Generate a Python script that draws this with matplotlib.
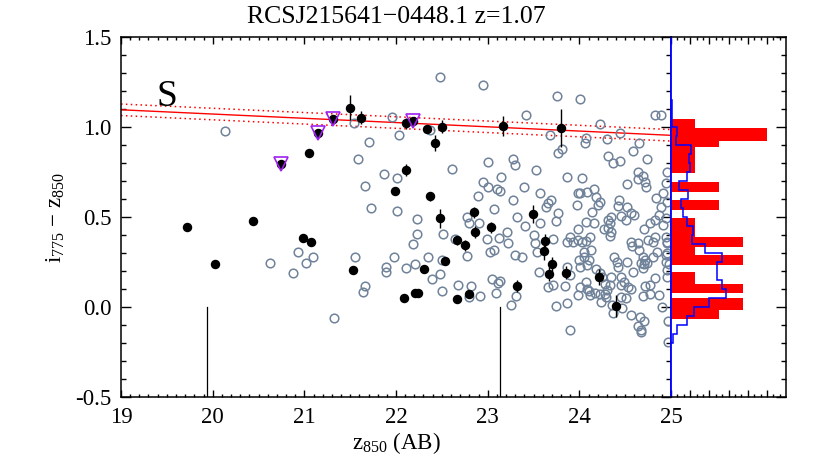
import numpy as np
import matplotlib
matplotlib.use("Agg")
import matplotlib.pyplot as plt
import matplotlib.ticker as ticker

plt.rcParams["font.family"] = ["Liberation Serif", "DejaVu Serif"]
plt.rcParams["mathtext.fontset"] = "custom"
plt.rcParams["mathtext.rm"] = "Liberation Serif"
plt.rcParams["mathtext.it"] = "Liberation Serif:italic"

# ── Gögn ────────────────────────────────────────────────────────────────────
# rauðraðar-vetrarbrautir (svartar, með óvissu)
black_x = [19.72, 20.03, 20.44, 20.74, 20.98, 21.05, 21.07, 21.15, 21.31, 21.50,
           21.53, 21.62, 21.99, 22.09, 22.11, 22.11, 22.19, 22.21, 22.24, 22.30,
           22.34, 22.37, 22.42, 22.48, 22.50, 22.53, 22.66, 22.66, 22.75, 22.80,
           22.85, 22.86, 23.04, 23.17, 23.32, 23.49, 23.61, 23.62, 23.67, 23.70,
           23.80, 23.85, 24.21, 24.40]
black_y = [0.446, 0.242, 0.478, 0.795, 0.385, 0.858, 0.363, 0.966, 1.044, 1.108,
           0.207, 1.053, 0.646, 0.051, 1.021, 0.760, 1.036, 0.079, 0.079, 0.211,
           0.991, 0.617, 0.914, 0.493, 1.003, 0.257, 0.372, 0.047, 0.344, 0.072,
           0.526, 0.418, 0.443, 1.005, 0.118, 0.517, 0.312, 0.366, 0.183, 0.237,
           0.994, 0.192, 0.168, 0.005]
black_err = [0.01, 0.01, 0.01, 0.025, 0.01, 0.015, 0.015, 0.025, 0.025, 0.07,
             0.015, 0.035, 0.015, 0.015, 0.03, 0.033, 0.02, 0.015, 0.015, 0.015,
             0.02, 0.025, 0.045, 0.053, 0.035, 0.015, 0.025, 0.015, 0.03, 0.02,
             0.03, 0.035, 0.03, 0.055, 0.035, 0.05, 0.05, 0.04, 0.04, 0.04,
             0.105, 0.035, 0.045, 0.06]

# litrófsgreindar (fjólubláir þríhyrningar)
tri_x = [20.74, 21.15, 21.31, 22.19]
tri_y = [0.795, 0.966, 1.044, 1.036]

# aðrar vetrarbrautir (gráir hringir)
gray_x = [22.48, 22.95, 23.76, 24.01, 23.42, 24.22, 24.83, 24.89, 21.96, 22.03,
          22.37, 23.68, 23.77, 23.81, 24.07, 24.06, 24.30, 24.44, 24.65, 24.58,
          24.74, 24.31, 24.37, 24.44, 23.28, 23.30, 23.00, 22.61, 21.87, 22.01,
          23.53, 23.87, 24.03, 23.15, 22.95, 23.00, 23.10, 23.13, 23.40, 23.57,
          22.89, 23.28, 23.69, 23.98, 24.01, 24.08, 24.16, 24.18, 24.52, 24.64,
          24.69, 24.72, 24.73, 24.64, 24.84, 24.91, 24.96, 24.95, 24.43,
          20.13, 21.58, 21.71, 21.66, 21.73, 21.54,
          20.63, 20.88, 20.93, 21.02, 21.09, 21.32, 21.55, 21.66, 21.64, 22.01,
          21.89, 21.89, 21.98,
          22.23, 22.23, 22.18, 22.11, 22.21, 22.35, 22.39, 22.48, 22.50, 22.50,
          22.51, 22.64, 22.68, 22.77, 22.80, 22.91, 22.77, 22.82, 22.80, 22.92,
          22.99, 23.03, 23.07, 23.05, 23.13, 23.11, 23.09, 23.07, 23.12, 23.21,
          23.22, 23.32, 23.30, 23.37, 23.31, 23.25, 23.41,
          23.66, 23.64, 23.77, 23.74, 23.57, 23.51, 23.52, 23.54, 23.71, 23.56,
          23.71, 23.66, 23.84, 23.75, 23.86, 23.90, 24.22, 24.20, 23.97, 24.14,
          24.07, 24.16, 23.99, 23.90, 23.86, 23.93, 23.99, 24.03, 24.07, 24.12,
          24.31, 24.33, 24.31, 24.34, 24.33, 24.27, 24.34, 24.45, 24.51, 24.56,
          24.52, 24.42, 24.60, 24.71, 24.77, 24.83, 24.87, 24.89, 24.96, 24.95,
          24.95, 24.96, 24.91, 24.83, 24.80, 24.75, 24.64, 24.65, 24.56, 24.57,
          24.69, 24.72, 24.71, 24.74, 24.69, 24.80, 24.85, 24.95, 24.95, 24.96,
          24.96, 24.83, 24.77, 24.72, 24.77, 24.87, 24.90, 24.58, 24.67, 24.52,
          24.42, 24.41, 24.38, 24.45, 24.49, 24.45, 24.53, 24.56, 24.34, 24.33,
          24.28, 24.30, 24.28, 24.29, 24.23, 24.25, 24.18, 24.13, 24.05, 24.05,
          24.10, 24.08, 24.00, 24.01, 24.08, 24.11, 24.12, 24.17, 24.23, 24.24,
          23.98, 24.01, 23.90, 23.87, 24.07, 24.36, 24.37, 24.47, 24.51, 24.45,
          24.56, 24.66, 24.70, 24.64, 24.67, 24.67, 24.69, 24.97, 24.97, 24.96,
          24.96, 24.98]
gray_y = [1.281, 1.233, 1.173, 1.157, 1.066, 1.019, 1.068, 1.068, 1.058, 0.956,
          0.984, 0.956, 0.858, 0.877, 0.938, 0.913, 0.932, 0.969, 0.910, 0.867,
          0.824, 0.841, 0.799, 0.813, 0.823, 0.788, 0.808, 0.765, 0.738, 0.719,
          0.762, 0.724, 0.715, 0.724, 0.696, 0.665, 0.654, 0.645, 0.665, 0.632,
          0.619, 0.598, 0.598, 0.635, 0.632, 0.641, 0.654, 0.613, 0.682, 0.749,
          0.730, 0.696, 0.669, 0.710, 0.604, 0.632, 0.752, 0.691, 0.598,
          0.979, 0.823, 0.917, 0.674, 0.550, 1.021,
          0.246, 0.192, 0.309, 0.246, 0.277, -0.060, 0.277, 0.116, 0.083, 0.535,
          0.223, 0.194, 0.276,
          0.489, 0.409, 0.348, 0.220, 0.242, 0.279, 0.155, 0.183, 0.090, 0.261,
          0.404, 0.376, 0.122, 0.502, 0.468, 0.468, 0.283, 0.116, 0.057, 0.062,
          0.381, 0.307, 0.320, 0.155, 0.146, 0.134, 0.079, 0.548, 0.385, 0.415,
          0.354, 0.502, 0.289, 0.276, 0.060, 0.014, 0.450,
          0.576, 0.556, 0.521, 0.479, 0.465, 0.400, 0.354, 0.307, 0.381, 0.196,
          0.122, 0.112, 0.116, 0.006, 0.023, -0.129, 0.585, 0.567, 0.567, 0.530,
          0.474, 0.468, 0.432, 0.390, 0.363, 0.363, 0.372, 0.363, 0.368, 0.390,
          0.483, 0.465, 0.437, 0.418, 0.396, 0.432, 0.502, 0.506, 0.483, 0.521,
          0.557, 0.561, 0.511, 0.432, 0.465, 0.483, 0.511, 0.554, 0.585, 0.493,
          0.390, 0.363, 0.456, 0.390, 0.363, 0.372, 0.357, 0.320, 0.363, 0.339,
          0.276, 0.261, 0.237, 0.246, 0.220, 0.276, 0.307, 0.289, 0.251, 0.205,
          0.168, 0.159, 0.122, 0.116, 0.072, 0.066, 0.001, 0.196, 0.246, 0.251,
          0.223, 0.251, 0.279, 0.168, 0.140, 0.122, 0.112, 0.103, 0.168, 0.122,
          0.127, 0.094, 0.075, 0.057, 0.187, 0.168, 0.209, 0.316, 0.307, 0.276,
          0.261, 0.233, 0.261, 0.223, 0.103, 0.090, 0.066, 0.079, 0.072, 0.029,
          0.066, 0.112, 0.177, 0.223, 0.140, 0.010, -0.033, -0.003, 0.048, 0.057,
          -0.045, -0.055, -0.077, -0.107, -0.125, -0.138, 0.060, -0.194, -0.077, 0.354,
          0.298, 0.242]

# rauðröðin: lína og ±breidd
rs_x = [19.0, 25.0]
rs_y = [1.097, 0.955]
rs_width = 0.032

# lóðréttar viðmiðunarlínur
vline_x = [19.94, 23.13]
vline_y = [-0.5, 0.0]

# súlurit (hægri) – rauðar talningar og blá samanburðardreifing
red_edges = [-0.064, -0.017, 0.048, 0.081, 0.131, 0.196, 0.233, 0.289, 0.335, 0.390,
             0.496, 0.539, 0.595, 0.641, 0.697, 0.747, 0.891, 0.925, 0.994, 1.045]
red_counts = [2, 3, 0, 3, 1, 0, 3, 1, 3, 1, 0, 2, 0, 2, 0, 1, 2, 4, 1]

blue_edges = [-0.20, -0.15, -0.10, -0.05, 0.00, 0.05, 0.10, 0.15, 0.20, 0.25,
              0.30, 0.35, 0.40, 0.45, 0.50, 0.55, 0.60, 0.65, 0.70, 0.75,
              0.80, 0.85, 0.90, 0.95, 1.00, 1.05, 1.10, 1.15]
blue_vals = [0.10, 0.26, 0.65, 0.97, 1.60, 2.29, 2.14, 1.90, 1.90, 2.11,
             1.42, 0.89, 0.93, 0.65, 0.51, 0.40, 0.72, 0.33, 0.65, 0.79,
             0.75, 0.82, 0.21, 0.26, 0.03, 0.03, 0.06]

# ── Mynd ────────────────────────────────────────────────────────────────────
W, H = 830, 467
fig = plt.figure(figsize=(W / 100, H / 100), dpi=100)
L, R, B, T = 121, 671, 397, 37.3
ax = fig.add_axes([L / W, 1 - B / H, (R - L) / W, (B - T) / H])
axh = fig.add_axes([R / W, 1 - B / H, (786 - R) / W, (B - T) / H])

FS = 16.5

ax.plot(rs_x, rs_y, color="red", lw=1.0, zorder=2)
ax.plot(rs_x, np.array(rs_y) + rs_width, color="red", lw=1.1, ls=(0, (1, 2.2)), zorder=2)
ax.plot(rs_x, np.array(rs_y) - rs_width, color="red", lw=1.1, ls=(0, (1, 2.2)), zorder=2)

for xv in vline_x:
    ax.plot([xv, xv], vline_y, color="black", lw=0.9, zorder=1)

ax.plot(gray_x, gray_y, "o", ms=6.2, mfc="none", mec="#70839a", mew=1.1, zorder=3)
ax.errorbar(black_x, black_y, yerr=black_err, fmt="o", ms=5.8, color="black",
            ecolor="black", elinewidth=1.0, capsize=0, zorder=4)
ax.plot(tri_x, tri_y, "v", ms=10.5, mfc="none", mec="#a020f0", mew=1.2, zorder=5)

ax.text(19.5, 1.17, "S", fontsize=27, ha="center", va="center")

ax.set_xlim(19, 25)
ax.set_ylim(-0.5, 1.5)
ax.xaxis.set_major_locator(ticker.MultipleLocator(1))
ax.xaxis.set_minor_locator(ticker.MultipleLocator(0.1))
ax.yaxis.set_major_locator(ticker.MultipleLocator(0.5))
ax.yaxis.set_minor_locator(ticker.MultipleLocator(0.1))
ax.yaxis.set_major_formatter(ticker.FormatStrFormatter("%.1f"))
ax.tick_params(which="both", direction="in", top=True, right=True, width=1.0,
               labelsize=FS)
ax.tick_params(axis="x", which="major", length=5, pad=7)
ax.tick_params(axis="x", which="minor", length=2.3)
ax.tick_params(axis="y", which="major", length=7, pad=7)
ax.tick_params(axis="y", which="minor", length=3.6)
for s in ax.spines.values():
    s.set_linewidth(1.1)
ax.spines["right"].set_color("blue")

ax.set_title("RCSJ215641\u22120448.1 z=1.07", fontsize=18.5, pad=10.5)
ax.set_xlabel("z$_{850}$ (AB)", fontsize=FS, labelpad=2)
ax.set_ylabel("i$_{775}$ \u2212 z$_{850}$", fontsize=FS, labelpad=6)

# hægra súlurit
axh.stairs(red_counts, red_edges, orientation="horizontal", fill=True,
           color="red", baseline=0, zorder=1)
axh.stairs(blue_vals, blue_edges, orientation="horizontal", color="blue",
           lw=1.1, baseline=0, zorder=2)
axh.set_xlim(0, 115 / 24)
axh.set_ylim(-0.5, 1.5)
axh.xaxis.set_major_locator(ticker.MultipleLocator(0.8))
axh.xaxis.set_minor_locator(ticker.MultipleLocator(0.8 / 3))
axh.yaxis.set_major_locator(ticker.MultipleLocator(0.5))
axh.yaxis.set_minor_locator(ticker.MultipleLocator(0.1))
axh.tick_params(which="both", direction="in", top=True, bottom=True,
                left=False, right=True, labelleft=False, labelbottom=False,
                width=1.0)
axh.tick_params(axis="x", which="major", length=5)
axh.tick_params(axis="x", which="minor", length=2.3)
axh.tick_params(axis="y", which="major", length=7)
axh.tick_params(axis="y", which="minor", length=3.6)
for s in axh.spines.values():
    s.set_linewidth(1.1)
axh.spines["left"].set_color("blue")
axh.spines["left"].set_linewidth(1.3)

fig.savefig("out.png", dpi=100)
